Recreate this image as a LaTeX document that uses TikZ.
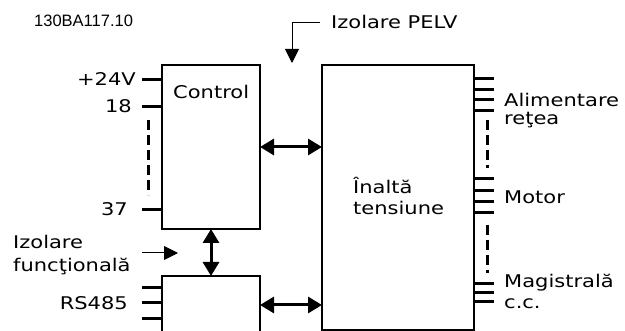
\documentclass[tikz,border=0pt]{standalone}
\usepackage{fontspec}
\setmainfont{DejaVu Sans}[FakeStretch=1.2]
\newfontfamily\codefont{Liberation Sans}
\usetikzlibrary{arrows.meta}
\begin{document}
\begin{tikzpicture}[x=1pt,y=-1pt,
  box/.style={draw,line width=2pt,rectangle,inner sep=0pt,outer sep=0pt},
  pin/.style={line width=3pt},
  dash3/.style={line width=3pt,dash pattern=on 10pt off 5pt},
  dbl/.style={line width=3pt,{Triangle[length=14pt 0 0,width=16pt 0 0]}-{Triangle[length=14pt 0 0,width=16pt 0 0]}},
  thinarrow/.style={line width=1pt,-{Triangle[length=14pt 0 0,width=14pt 0 0]}},
  lbl/.style={inner sep=0pt,font=\fontsize{17.5}{21}\selectfont}]
\useasboundingbox (0,0) rectangle (625,331);
\clip (0,0) rectangle (625,331);
\fill[white] (0,0) rectangle (625,331);

% boxes
\node[box,minimum width=98pt,minimum height=164pt] (ctrl) at (211,147) {};
\node[box,minimum width=98pt,minimum height=80pt,anchor=north] (rs) at (211,276) {};
\node[box,minimum width=152pt,minimum height=265pt] (hv) at (398,197.5) {};

% texts
\node[inner sep=0pt,anchor=base west,font=\codefont\fontsize{16.5}{20}\selectfont] (code) at (34,27) {130BA117.10};
\node[lbl,anchor=base west] (pelv) at (331,29) {Izolare PELV};
\node[lbl,anchor=base west] (tctrl) at (173,99) {Control};
\node[lbl,anchor=base east] (l24) at (136,86) {+24V};
\node[lbl,anchor=base east] (l18) at (132,113) {18};
\node[lbl,anchor=base east] (l37) at (128,216) {37};
\node[lbl,anchor=base west] (iz1) at (13,249) {Izolare};
\node[lbl,anchor=base west] (iz2) at (13,272) {funcţională};
\node[lbl,anchor=base east] (lrs) at (128,310) {RS485};
\node[lbl,anchor=base west] (hv1) at (353,194) {Înaltă};
\node[lbl,anchor=base west] (hv2) at (353,215) {tensiune};
\node[lbl,anchor=base west] (al1) at (504,107) {Alimentare};
\node[lbl,anchor=base west] (al2) at (504,125) {reţea};
\node[lbl,anchor=base west] (mot) at (504,204) {Motor};
\node[lbl,anchor=base west] (mg1) at (504,288) {Magistrală};
\node[lbl,anchor=base west] (mg2) at (504,309) {c.c.};

% double arrows
\coordinate (rsmid) at (rs.north east |- 0,305);
\draw[dbl] (ctrl.east) -- (hv.west |- ctrl.east);
\draw[dbl] (ctrl.south) -- (rs.north);
\draw[dbl] (rsmid) -- (hv.west |- rsmid);

% isolation arrows
\coordinate (pelvtip) at (292,63);
\draw[thinarrow] ([xshift=-11pt]pelv.west) -| (pelvtip);
\coordinate (fa) at (142,253);
\coordinate (fb) at (178,253);
\draw[thinarrow] (fa) -- (fb);

% control pins
\foreach \y in {80,107,210} \draw[pin] (ctrl.west |- 0,\y) -- ++(-20,0);
\draw[dash3] (148,120) -- (148,195);
% RS485 pins
\foreach \y in {288,303,319} \draw[pin] (rs.west |- 0,\y) -- ++(-20,0);

% high voltage pins
\foreach \y in {79,89.5,100,110.5} \draw[pin] (hv.east |- 0,\y) -- ++(20,0);
\foreach \y in {179,190.3,201.7,213} \draw[pin] (hv.east |- 0,\y) -- ++(20,0);
\foreach \y in {284,293,302} \draw[pin] (hv.east |- 0,\y) -- ++(20,0);
\draw[dash3] (487,120) -- (487,168);
\draw[dash3] (487,225) -- (487,273);
\end{tikzpicture}
\end{document}
